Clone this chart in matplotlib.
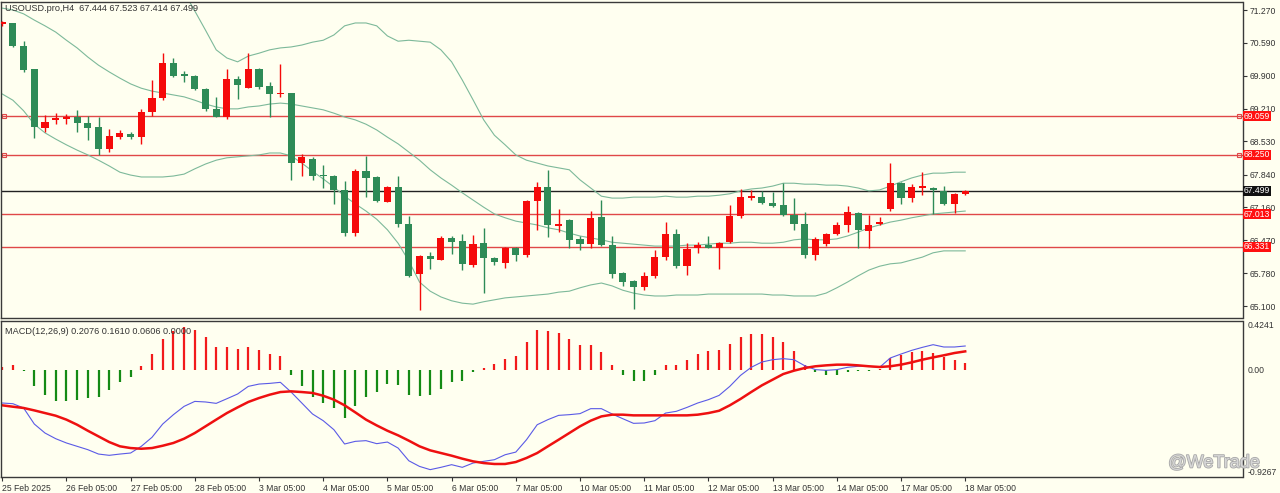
import numpy as np
import matplotlib
matplotlib.use("Agg")
import matplotlib.pyplot as plt
import matplotlib.transforms as mtransforms
import matplotlib.patheffects as pe

plt.rcParams['font.family'] = ['Liberation Sans', 'DejaVu Sans']

# ---- data (USOUSD H4) ----
opens = [70.97, 70.99, 70.53, 70.04, 68.82, 68.98, 68.99, 69.03, 68.91, 68.83,
         68.37, 68.63, 68.69, 68.62, 69.14, 69.44, 70.16, 69.94, 69.90, 69.63,
         69.21, 69.05, 69.83, 69.65, 70.05, 69.69, 69.51, 69.55, 68.09, 68.17,
         67.83, 67.81, 67.52, 66.62, 67.92, 67.80, 67.26, 67.59, 66.81, 65.76,
         66.14, 66.07, 66.52, 66.46, 65.96, 66.41, 66.10, 65.99, 66.30, 66.16,
         67.28, 67.59, 66.77, 66.89, 66.50, 66.39, 66.95, 66.37, 65.78, 65.62,
         65.50, 65.73, 66.13, 66.60, 65.94, 66.30, 66.37, 66.32, 66.43, 66.98,
         67.35, 67.38, 67.25, 67.21, 67.00, 66.80, 66.16, 66.39, 66.60, 66.78,
         67.03, 66.67, 66.80, 67.12, 67.67, 67.36, 67.57, 67.57, 67.50, 67.22,
         67.444]
highs = [71.05, 71.00, 70.62, 70.05, 69.08, 69.13, 69.10, 69.19, 69.06, 69.05,
         68.80, 68.77, 68.73, 69.20, 69.81, 70.37, 70.26, 69.99, 69.92, 69.65,
         69.46, 70.05, 69.89, 70.37, 70.07, 69.78, 70.14, 69.55, 68.27, 68.20,
         68.05, 67.83, 67.71, 67.95, 68.23, 67.82, 67.61, 67.82, 66.98, 66.16,
         66.23, 66.55, 66.55, 66.60, 66.59, 66.72, 66.13, 66.34, 66.34, 67.31,
         67.69, 67.94, 67.12, 66.91, 66.57, 67.09, 67.32, 66.57, 65.82, 65.64,
         65.80, 66.27, 66.86, 66.70, 66.41, 66.43, 66.55, 66.44, 67.21, 67.55,
         67.51, 67.50, 67.48, 67.67, 67.35, 67.07, 66.53, 66.62, 66.86, 67.19,
         67.05, 67.00, 66.96, 68.09, 67.69, 67.64, 67.90, 67.59, 67.60, 67.46,
         67.523]
lows = [70.93, 70.50, 69.98, 68.60, 68.73, 68.89, 68.89, 68.73, 68.56, 68.25,
        68.32, 68.58, 68.58, 68.48, 69.06, 69.39, 69.87, 69.78, 69.60, 69.17,
        69.03, 68.99, 69.41, 69.65, 69.62, 69.05, 69.46, 67.73, 67.82, 67.73,
        67.57, 67.23, 66.57, 66.55, 67.38, 67.26, 67.26, 66.75, 65.71, 65.02,
        65.87, 66.06, 66.19, 65.85, 65.92, 65.37, 65.96, 65.89, 66.04, 66.12,
        66.69, 66.53, 66.64, 66.30, 66.27, 66.32, 66.35, 65.68, 65.52, 65.03,
        65.44, 65.68, 66.06, 65.89, 65.75, 66.21, 66.30, 65.87, 66.41, 66.93,
        67.32, 67.23, 67.17, 66.98, 66.69, 66.10, 66.07, 66.35, 66.58, 66.65,
        66.32, 66.32, 66.78, 67.09, 67.23, 67.26, 67.42, 67.01, 67.20, 67.03,
        67.414]
closes = [71.01, 70.52, 70.03, 68.83, 68.93, 69.01, 69.03, 68.91, 68.82, 68.37,
          68.65, 68.70, 68.62, 69.15, 69.44, 70.16, 69.89, 69.90, 69.62, 69.20,
          69.05, 69.83, 69.71, 70.05, 69.67, 69.51, 69.53, 68.09, 68.20, 67.82,
          67.81, 67.52, 66.62, 67.92, 67.76, 67.28, 67.59, 66.80, 65.73, 66.15,
          66.09, 66.52, 66.44, 65.98, 66.40, 66.10, 66.01, 66.32, 66.16, 67.28,
          67.59, 66.78, 66.80, 66.48, 66.39, 66.93, 66.37, 65.76, 65.61, 65.50,
          65.73, 66.13, 66.60, 65.94, 66.29, 66.37, 66.32, 66.41, 66.98, 67.37,
          67.39, 67.24, 67.19, 67.00, 66.80, 66.16, 66.49, 66.60, 66.78, 67.05,
          66.69, 66.79, 66.85, 67.67, 67.36, 67.59, 67.60, 67.51, 67.22, 67.44,
          67.499]

bb_upper = [73.60, 73.60, 73.60, 73.60, 73.50, 73.45, 73.40, 73.35, 73.30, 73.25,
            73.20, 73.10, 73.00, 72.90, 72.73, 72.35, 72.00, 71.64, 71.25, 70.85,
            70.44, 70.27, 70.19, 70.31, 70.37, 70.44, 70.48, 70.50, 70.54, 70.60,
            70.64, 70.75, 70.94, 71.00, 71.00, 70.94, 70.73, 70.62, 70.64, 70.62,
            70.60, 70.44, 70.19, 69.81, 69.40, 68.98, 68.66, 68.46, 68.25, 68.14,
            68.08, 68.02, 67.98, 67.94, 67.73, 67.56, 67.39, 67.35, 67.35, 67.37,
            67.37, 67.37, 67.39, 67.37, 67.37, 67.39, 67.39, 67.41, 67.44, 67.50,
            67.54, 67.56, 67.60, 67.66, 67.66, 67.64, 67.64, 67.62, 67.62, 67.60,
            67.56, 67.50, 67.52, 67.60, 67.69, 67.77, 67.83, 67.87, 67.87, 67.89,
            67.89]
bb_mid = [71.31, 71.27, 71.19, 71.06, 70.94, 70.81, 70.64, 70.48, 70.29, 70.12,
          69.98, 69.85, 69.73, 69.64, 69.58, 69.54, 69.50, 69.46, 69.39, 69.31,
          69.25, 69.21, 69.21, 69.25, 69.27, 69.31, 69.33, 69.31, 69.27, 69.23,
          69.19, 69.12, 69.04, 68.98, 68.89, 68.77, 68.62, 68.48, 68.31, 68.14,
          67.94, 67.77, 67.62, 67.46, 67.31, 67.16, 67.02, 66.94, 66.87, 66.83,
          66.79, 66.73, 66.69, 66.62, 66.56, 66.52, 66.48, 66.43, 66.41, 66.39,
          66.37, 66.35, 66.35, 66.35, 66.37, 66.37, 66.39, 66.41, 66.41, 66.43,
          66.43, 66.41, 66.41, 66.43, 66.48, 66.50, 66.48, 66.48, 66.50, 66.56,
          66.64, 66.73, 66.79, 66.85, 66.89, 66.94, 66.98, 67.02, 67.04, 67.06,
          67.08]
bb_lower = [69.52, 69.39, 69.17, 68.89, 68.71, 68.58, 68.46, 68.35, 68.25, 68.14,
            68.02, 67.89, 67.83, 67.79, 67.79, 67.79, 67.81, 67.85, 67.96, 68.06,
            68.14, 68.19, 68.21, 68.23, 68.25, 68.29, 68.29, 68.23, 68.08, 67.91,
            67.75, 67.58, 67.39, 67.23, 67.08, 66.91, 66.69, 66.41, 66.04, 65.60,
            65.41, 65.29, 65.21, 65.16, 65.14, 65.19, 65.23, 65.27, 65.29, 65.31,
            65.33, 65.35, 65.39, 65.41, 65.48, 65.54, 65.58, 65.52, 65.43, 65.37,
            65.33, 65.31, 65.31, 65.33, 65.33, 65.33, 65.35, 65.35, 65.35, 65.35,
            65.35, 65.35, 65.33, 65.33, 65.31, 65.31, 65.31, 65.37, 65.48, 65.60,
            65.73, 65.85, 65.93, 65.98, 66.00, 66.06, 66.12, 66.21, 66.25, 66.25,
            66.25]

macd_main = [-0.286, -0.292, -0.329, -0.468, -0.546, -0.595, -0.632, -0.661, -0.690, -0.728,
             -0.739, -0.728, -0.719, -0.661, -0.583, -0.468, -0.387, -0.315, -0.272, -0.277,
             -0.289, -0.249, -0.208, -0.142, -0.122, -0.116, -0.107, -0.191, -0.286, -0.381,
             -0.439, -0.517, -0.641, -0.618, -0.612, -0.638, -0.624, -0.676, -0.786, -0.835,
             -0.863, -0.843, -0.820, -0.843, -0.806, -0.791, -0.777, -0.734, -0.711, -0.604,
             -0.474, -0.430, -0.393, -0.387, -0.378, -0.335, -0.335, -0.381, -0.422, -0.462,
             -0.459, -0.439, -0.373, -0.358, -0.324, -0.286, -0.257, -0.220, -0.142, -0.047,
             0.023, 0.069, 0.089, 0.098, 0.089, 0.037, 0.003, -0.003, 0.003, 0.023,
             0.032, 0.032, 0.023, 0.104, 0.138, 0.170, 0.196, 0.219, 0.199, 0.199,
             0.2076]
macd_signal = [-0.306, -0.318, -0.329, -0.350, -0.373, -0.396, -0.430, -0.474, -0.526, -0.575,
               -0.624, -0.661, -0.676, -0.682, -0.676, -0.656, -0.632, -0.595, -0.546, -0.488,
               -0.430, -0.373, -0.324, -0.277, -0.243, -0.214, -0.191, -0.185, -0.191, -0.199,
               -0.223, -0.257, -0.306, -0.367, -0.430, -0.480, -0.526, -0.566, -0.612, -0.661,
               -0.696, -0.719, -0.742, -0.768, -0.791, -0.806, -0.814, -0.814, -0.797, -0.762,
               -0.719, -0.661, -0.604, -0.546, -0.488, -0.439, -0.402, -0.387, -0.387, -0.393,
               -0.393, -0.393, -0.393, -0.393, -0.393, -0.387, -0.373, -0.353, -0.306, -0.251,
               -0.191, -0.133, -0.084, -0.035, -0.006, 0.017, 0.032, 0.040, 0.046, 0.046,
               0.040, 0.032, 0.026, 0.032, 0.046, 0.066, 0.089, 0.109, 0.127, 0.147,
               0.1610]
macd_hist = [0.023, 0.040, -0.005, -0.141, -0.220, -0.266, -0.272, -0.263, -0.243, -0.234,
             -0.176, -0.107, -0.064, 0.031, 0.138, 0.265, 0.335, 0.369, 0.346, 0.283,
             0.202, 0.202, 0.185, 0.196, 0.173, 0.141, 0.118, -0.040, -0.141, -0.237,
             -0.286, -0.329, -0.416, -0.315, -0.237, -0.191, -0.119, -0.127, -0.220, -0.223,
             -0.214, -0.162, -0.107, -0.093, -0.020, 0.017, 0.052, 0.098, 0.124, 0.239,
             0.343, 0.340, 0.323, 0.271, 0.219, 0.219, 0.156, 0.046, -0.040, -0.093,
             -0.093, -0.046, 0.046, 0.046, 0.089, 0.138, 0.162, 0.173, 0.225, 0.283,
             0.312, 0.312, 0.288, 0.239, 0.167, 0.046, -0.017, -0.046, -0.040, -0.017,
             -0.012, -0.006, 0.012, 0.104, 0.133, 0.156, 0.162, 0.147, 0.110, 0.087,
             0.0606]

date_labels = ["25 Feb 2025", "26 Feb 05:00", "27 Feb 05:00", "28 Feb 05:00",
               "3 Mar 05:00", "4 Mar 05:00", "5 Mar 05:00", "6 Mar 05:00",
               "7 Mar 05:00", "10 Mar 05:00", "11 Mar 05:00", "12 Mar 05:00",
               "13 Mar 05:00", "14 Mar 05:00", "17 Mar 05:00", "18 Mar 05:00"]
date_bars = [0, 6, 12, 18, 24, 30, 36, 42, 48, 54, 60, 66, 72, 78, 84, 90]

price_ticks = [71.270, 70.590, 69.900, 69.210, 68.530, 67.840, 67.160, 66.470, 65.780, 65.100]
red_levels = [69.059, 68.250, 67.013, 66.331]
last_price = 67.499

# ---- style ----
BG = '#fffff0'
UP = '#f50a0a'
DOWN = '#2e8b57'
BAND = '#7db99a'
LEVEL = '#e04848'
TXT = '#333333'

W, H = 1280, 493
fig = plt.figure(figsize=(W / 100, H / 100), dpi=100, facecolor=BG)
ax = fig.add_axes([0.5 / W, 1 - 318 / H, 1242 / W, 316 / H], facecolor=BG)
ax2 = fig.add_axes([0.5 / W, 1 - 477 / H, 1242 / W, 156 / H], facecolor=BG)

x = np.arange(len(closes))
o = np.array(opens)
c = np.array(closes)
up = c >= o

# Bollinger bands
ax.plot(x, bb_upper, color=BAND, lw=0.8)
ax.plot(x, bb_mid, color=BAND, lw=0.8)
ax.plot(x, bb_lower, color=BAND, lw=0.8)

# levels
for lv in red_levels:
    ax.axhline(lv, color=LEVEL, lw=1.0, zorder=1)
for lv in red_levels[:2]:
    ax.plot([0.003, 0.997], [lv, lv], ls='none', marker='s', ms=3, mfc='none',
            mec=LEVEL, mew=0.8, transform=mtransforms.blended_transform_factory(ax.transAxes, ax.transData),
            clip_on=False)
ax.axhline(last_price, color='#222222', lw=1.0, zorder=1)

# candles
colors = [UP if u else DOWN for u in up]
ax.vlines(x, lows, highs, colors=colors, lw=1.0, zorder=3)
body = np.maximum(np.abs(c - o), 0.012)
ax.bar(x, body, bottom=np.minimum(o, c), width=0.66, color=colors, linewidth=0, zorder=4)

xmin = -0.159
xmax = xmin + 1242 / 10.7
for a in (ax, ax2):
    a.set_xlim(xmin, xmax)
    for s in a.spines.values():
        s.set_color('#3a3a3a')
        s.set_linewidth(1.0)

ax.set_ylim(64.851, 71.437)
ax.set_xticks([])
ax.yaxis.tick_right()
ax.set_yticks(price_ticks)
ax.set_yticklabels(['%.3f' % v for v in price_ticks])
ax.tick_params(axis='y', length=3, width=0.8, colors=TXT, labelsize=6.2, pad=2)

# price boxes on the right axis
tr = mtransforms.blended_transform_factory(ax.transAxes, ax.transData)
for lv in red_levels:
    ax.text(1.0012, lv, '%.3f' % lv, transform=tr, ha='left', va='center', fontsize=6.2,
            color='white', bbox=dict(boxstyle='square,pad=0.08', fc='#ff1010', ec='none'),
            clip_on=False, zorder=10)
ax.text(1.0012, last_price, '%.3f' % last_price, transform=tr, ha='left', va='center',
        fontsize=6.2, color='white',
        bbox=dict(boxstyle='square,pad=0.08', fc='#111111', ec='none'), clip_on=False, zorder=10)

ax.text(0.004, 0.978, 'USOUSD.pro,H4  %.3f %.3f %.3f %.3f' % (opens[-1], highs[-1], lows[-1], closes[-1]),
        transform=ax.transAxes, ha='left', va='center', fontsize=6.6, color=TXT)

# MACD
hist = np.array(macd_hist)
hcol = ['#f21a1a' if v >= 0 else '#148a14' for v in hist]
ax2.vlines(x, 0, hist, colors=hcol, lw=1.6)
ax2.plot(x, macd_main, color='#5a5ae6', lw=0.8)
ax2.plot(x, macd_signal, color='#ee1010', lw=1.8)
ax2.set_ylim(-0.9267, 0.4241)
ax2.yaxis.tick_right()
ax2.set_yticks([0.4241, 0.0, -0.9267])
ax2.set_yticklabels(['0.4241', '0.00', '-0.9267'])
lbls = ax2.get_yticklabels()
lbls[0].set_verticalalignment('top')
lbls[2].set_verticalalignment('bottom')
ax2.tick_params(axis='y', length=0, colors=TXT, labelsize=6.2, pad=4)
ax2.text(0.004, 0.93, 'MACD(12,26,9) 0.2076 0.1610 0.0606 0.0000', transform=ax2.transAxes,
         ha='left', va='center', fontsize=6.6, color=TXT)

ax2.set_xticks(date_bars)
ax2.set_xticklabels(date_labels)
for t in ax2.get_xticklabels():
    t.set_horizontalalignment('left')
ax2.tick_params(axis='x', length=3, width=0.8, colors=TXT, labelsize=6.2, pad=2)

# watermark
fig.text(0.984, 1 - 463 / H, '@WeTrade', ha='right', va='center', fontsize=13,
         color='#d6d6d6', path_effects=[pe.withStroke(linewidth=1.2, foreground='#a8a8a8')])

fig.savefig('out.png', dpi=100, facecolor=BG)
